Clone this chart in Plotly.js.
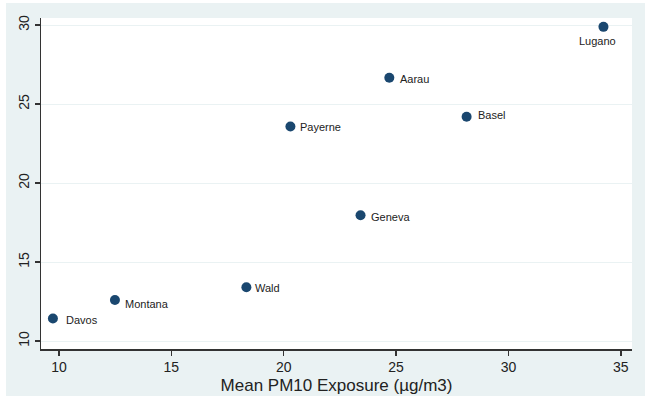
<!DOCTYPE html>
<html>
<head>
<meta charset="utf-8">
<script src="https://cdn.plot.ly/plotly-3.0.1.min.js"></script>
<style>
  html, body { margin: 0; padding: 0; background: #ffffff; }
  #chart { position: absolute; left: 6px; top: 3px; width: 639px; height: 393px; }
</style>
</head>
<body>
<div id="chart"></div>
<script>
// Data
const cities = ["Lugano", "Aarau", "Basel", "Payerne", "Geneva", "Wald", "Montana", "Davos"];
const pm10   = [34.23, 24.70, 28.14, 20.30, 23.42, 18.34, 12.49, 9.73];
const yvals  = [29.89, 26.67, 24.20, 23.58, 17.97, 13.41, 12.60, 11.43];
const xTicks = [10, 15, 20, 25, 30, 35];
const yTicks = [10, 15, 20, 25, 30];

// label placement (style): anchor and pixel offsets from the marker
const labelAnchor = ["center", "left", "left", "left", "left", "left", "left", "left"];
const labelDx     = [-6, 9, 9, 8, 8, 7, 8, 11];
const labelDy     = [-14, -1, 2, 0, -1.5, -1, -3.5, -1];

const navy = "#1a476f";
const fontFam = "Liberation Sans, Arial, sans-serif";

const trace = {
  type: "scatter",
  mode: "markers",
  x: pm10,
  y: yvals,
  text: cities,
  marker: { color: navy, size: 10, line: { width: 0 } },
  hoverinfo: "x+y+text",
  cliponaxis: false
};

const annotations = cities.map((c, i) => ({
  x: pm10[i],
  y: yvals[i],
  xref: "x",
  yref: "y",
  text: c,
  showarrow: false,
  xanchor: labelAnchor[i],
  yanchor: "middle",
  xshift: labelDx[i],
  yshift: labelDy[i],
  font: { family: fontFam, size: 11, color: "#222222" }
}));

const layout = {
  width: 639,
  height: 393,
  paper_bgcolor: "#eaf2f3",
  plot_bgcolor: "#ffffff",
  margin: { l: 35, r: 13, t: 15, b: 47 },
  showlegend: false,
  font: { family: fontFam, color: "#222222" },
  annotations: annotations,
  xaxis: {
    range: [9.2, 35.5],
    tickvals: xTicks,
    ticktext: xTicks.map(String),
    showgrid: false,
    zeroline: false,
    showline: true,
    linecolor: "#333333",
    linewidth: 1.5,
    ticks: "outside",
    ticklen: 5,
    tickwidth: 1.5,
    tickcolor: "#333333",
    tickfont: { size: 14, color: "#222222" },
    title: { text: "Mean PM10 Exposure (µg/m3)", font: { size: 17, color: "#222222" }, standoff: 5 }
  },
  yaxis: {
    range: [9.5, 30.45],
    tickvals: yTicks,
    ticktext: yTicks.map(String),
    tickangle: -90,
    showgrid: true,
    gridcolor: "#eaf2f3",
    gridwidth: 1.2,
    zeroline: false,
    showline: true,
    linecolor: "#333333",
    linewidth: 1.5,
    ticks: "outside",
    ticklen: 5,
    tickwidth: 1.5,
    tickcolor: "#333333",
    tickfont: { size: 14, color: "#222222" }
  }
};

Plotly.newPlot("chart", [trace], layout, { displayModeBar: false, staticPlot: true });
</script>
</body>
</html>
